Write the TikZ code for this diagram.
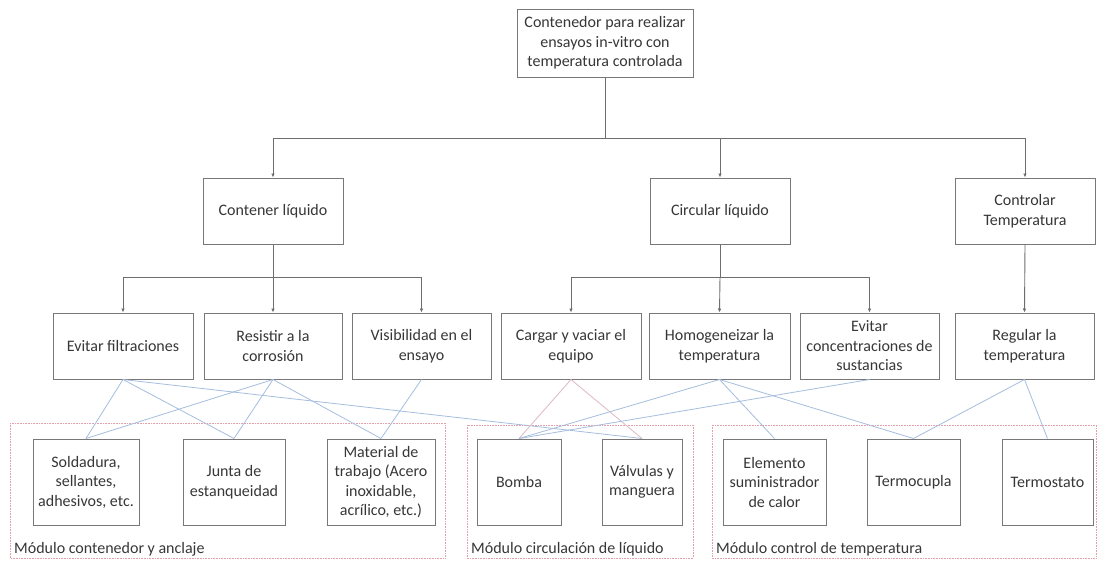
\documentclass[tikz,border=0pt]{standalone}
\usepackage{fontspec}
\setmainfont{Carlito}
\usetikzlibrary{arrows.meta}
\definecolor{boxline}{RGB}{120,120,120}
\definecolor{txt}{RGB}{55,55,55}
\definecolor{relblue}{RGB}{165,190,222}
\definecolor{relpink}{RGB}{222,185,195}
\definecolor{modline}{RGB}{228,160,170}
\definecolor{treeline}{RGB}{110,110,110}
\tikzset{
  box/.style={draw=boxline, line width=1pt, fill=white, text=txt, align=center,
    inner sep=2pt, font=\fontsize{16}{19.5}\selectfont},
  arr/.style={draw=treeline, line width=0.9pt, -{Latex[length=4pt,width=3.6pt]}},
  rel/.style={draw=relblue, line width=0.8pt},
  relp/.style={draw=relpink, line width=0.8pt},
  module/.style={draw=modline, line width=0.6pt, densely dotted},
  modlabel/.style={anchor=base west, text=txt, inner sep=0pt, font=\fontsize{16}{19.5}\selectfont}
}
\begin{document}
\begin{tikzpicture}[x=1pt,y=-1pt]
\useasboundingbox[fill=white] (0,0) rectangle (1098,560);

% modules
\draw[module] (10,423) rectangle (445,558);
\draw[module] (467,425) rectangle (693,558);
\draw[module] (712,425) rectangle (1096,558);
\node[modlabel] (m1) at (14,553) {Módulo contenedor y anclaje};
\node[modlabel] (m2) at (471,553) {Módulo circulación de líquido};
\node[modlabel] (m3) at (716,553) {Módulo control de temperatura};

% level 1
\node[box, minimum width=176pt, minimum height=68pt] (top) at (605,43)
  {Contenedor para realizar\\ensayos in-vitro con\\temperatura controlada};

% level 2
\node[box, minimum width=140pt, minimum height=66pt] (cont) at (273,211) {Contener líquido};
\node[box, minimum width=140pt, minimum height=66pt] (circ) at (720,211) {Circular líquido};
\node[box, minimum width=140pt, minimum height=66pt] (ctrl) at (1025,211) {Controlar\\Temperatura};

% level 3
\node[box, minimum width=140pt, minimum height=66pt] (evf) at (123,346) {Evitar filtraciones};
\node[box, minimum width=138pt, minimum height=66pt] (res) at (273,346) {Resistir a la\\corrosión};
\node[box, minimum width=139pt, minimum height=66pt] (vis) at (421.5,346) {Visibilidad en el\\ensayo};
\node[box, minimum width=140pt, minimum height=66pt] (car) at (571,346) {Cargar y vaciar el\\equipo};
\node[box, minimum width=141pt, minimum height=66pt] (hom) at (719.5,346) {Homogeneizar la\\temperatura};
\node[box, minimum width=139pt, minimum height=66pt] (evc) at (869.5,346) {Evitar\\concentraciones de\\sustancias};
\node[box, minimum width=139pt, minimum height=66pt] (reg) at (1024.5,346) {Regular la\\temperatura};

% components
\node[box, minimum width=106pt, minimum height=86pt] (sol) at (86,482) {Soldadura,\\sellantes,\\adhesivos, etc.};
\node[box, minimum width=102pt, minimum height=86pt] (jun) at (234,482) {Junta de\\estanqueidad};
\node[box, minimum width=108pt, minimum height=86pt] (mat) at (381,482) {Material de\\trabajo (Acero\\inoxidable,\\acrílico, etc.)};
\node[box, minimum width=84pt, minimum height=86pt] (bom) at (519,482) {Bomba};
\node[box, minimum width=80pt, minimum height=86pt] (val) at (642,482) {Válvulas y\\manguera};
\node[box, minimum width=103pt, minimum height=86pt] (ele) at (774.5,482) {Elemento\\suministrador\\de calor};
\node[box, minimum width=93pt, minimum height=86pt] (tcu) at (913.5,482) {Termocupla};
\node[box, minimum width=91pt, minimum height=86pt] (tst) at (1047.5,482) {Termostato};

% tree connectors
\coordinate (j1) at (605,138);
\draw[arr] (top.south) -- (j1) -| (cont.north);
\draw[arr] (j1) -| (circ.north);
\draw[arr] (j1) -| (ctrl.north);

\coordinate (j2) at (273,277);
\draw[arr] (cont.south) -- (j2) -| (evf.north);
\draw[arr] (j2) -- (res.north);
\draw[arr] (j2) -| (vis.north);

\coordinate (j3) at (720,277);
\draw[arr] (circ.south) -- (j3) -| (car.north);
\draw[arr] (j3) -- (hom.north);
\draw[arr] (j3) -| (evc.north);

\draw[arr] (ctrl.south) -- (reg.north);

% relations
\draw[rel] (evf.south) -- (sol.north);
\draw[rel] (evf.south) -- (jun.north);
\draw[rel] (evf.south) -- (val.north);
\draw[rel] (res.south) -- (sol.north);
\draw[rel] (res.south) -- (jun.north);
\draw[rel] (res.south) -- (mat.north);
\draw[rel] (vis.south) -- (mat.north);
\draw[relp] (car.south) -- (bom.north);
\draw[relp] (car.south) -- (val.north);
\draw[rel] (hom.south) -- (bom.north);
\draw[rel] (hom.south) -- (ele.north);
\draw[rel] (hom.south) -- (tcu.north);
\draw[rel] (evc.south) -- (bom.north);
\draw[rel] (reg.south) -- (tcu.north);
\draw[rel] (reg.south) -- (tst.north);
\end{tikzpicture}
\end{document}
